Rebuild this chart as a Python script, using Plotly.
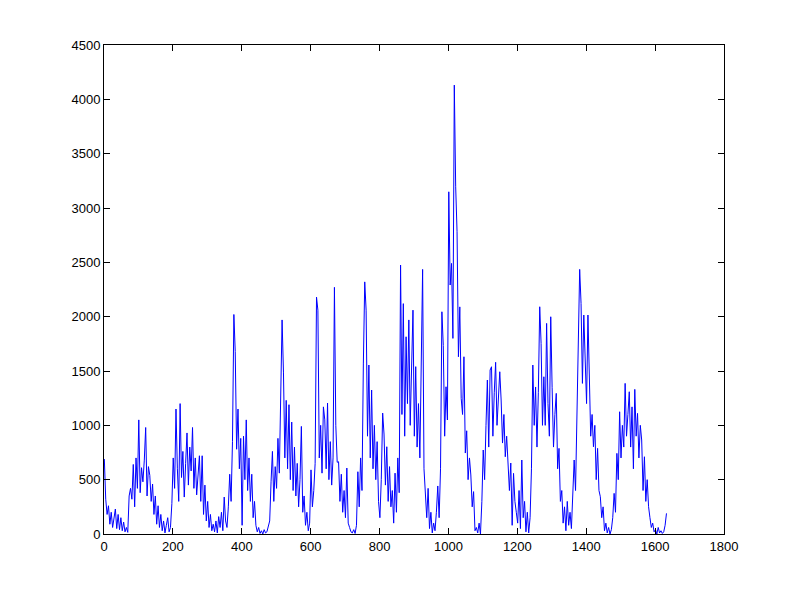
import plotly.graph_objects as go

# Sample index (MATLAB-style plot(y): x = 1..N), sampled every 4 steps
x_start = 1
x_step = 4

# Series values, 10 samples per 40 x-units
values = [
    690, 320, 180, 260, 90, 200, 60, 130, 230, 50,            # 1-37
    180, 40, 150, 30, 110, 20, 60, 15, 350, 420,              # 41-77
    320, 640, 250, 700, 420, 1050, 380, 610, 480, 680,        # 81-117
    980, 350, 620, 540, 300, 460, 180, 350, 90, 260,          # 121-157
    60, 180, 30, 120, 10, 80, 150, 20, 60, 280,               # 161-197
    700, 420, 1150, 600, 300, 1200, 520, 760, 340, 650,       # 201-237
    930, 450, 800, 580, 980, 420, 700, 360, 520, 720,         # 241-277
    300, 720, 180, 450, 120, 300, 60, 180, 30, 90,            # 281-317
    20, 120, 10, 160, 60, 200, 30, 340, 120, 60,              # 321-357
    250, 550, 300, 850, 2020, 1680, 780, 1150, 600, 880,      # 361-397
    80, 900, 500, 1050, 400, 700, 300, 550, 150, 300,         # 401-437
    80, 20, 60, 5, 30, 0, 40, 10, 20, 60,                     # 441-477
    120, 480, 760, 300, 620, 420, 880, 560, 1150, 1970,       # 481-517
    1490, 700, 1230, 600, 1190, 500, 1030, 400, 800, 350,     # 521-557
    650, 250, 500, 990, 200, 350, 80, 200, 30, 100,           # 561-597
    590, 250, 400, 650, 2180, 2060, 700, 1000, 560, 1170,     # 601-637
    1050, 600, 1205, 500, 850, 450, 700, 2270, 1000, 660,     # 641-677
    665, 300, 550, 200, 400, 150, 607, 100, 60, 20,           # 681-717
    10, 40, 5, 80, 573, 250, 700, 400, 1573, 2320,            # 721-757
    2060, 900, 1555, 700, 1325, 600, 1000, 500, 850, 300,     # 761-797
    150, 500, 1113, 920, 450, 803, 300, 620, 250, 400,        # 801-837
    100, 560, 200, 700, 380, 2475, 1100, 2120, 900, 1815,     # 841-877
    1200, 1970, 1000, 1500, 2060, 900, 1540, 800, 1200, 700,  # 881-917
    1750, 2435, 600, 380, 150, 420, 50, 200, 10, 100,         # 921-957
    30, 200, 442, 150, 600, 2045, 1735, 900, 1355, 1049,      # 961-997
    3149, 2291, 2490, 1800, 4131, 3195, 2782, 1631, 2090, 1248,  # 1001-1037
    1100, 1631, 745, 950, 500, 700, 543, 250, 390, 30,        # 1041-1077
    60, 10, 100, 0, 300, 773, 500, 1000, 1417, 800,           # 1081-1117
    1509, 1539, 900, 1300, 1580, 1000, 1200, 1493, 1233, 837, # 1121-1157
    1100, 711, 900, 650, 400, 653, 80, 558, 300, 200,         # 1161-1197
    100, 400, 50, 681, 150, 300, 20, 200, 10, 150,            # 1201-1237
    600, 1555, 1000, 1353, 800, 1300, 2091, 1754, 1000, 1447, # 1241-1277
    1000, 1938, 1200, 900, 1999, 1350, 800, 1100, 1294, 600,  # 1281-1317
    788, 300, 400, 100, 250, 30, 300, 80, 200, 50,            # 1321-1357
    300, 681, 400, 1000, 1662, 2435, 2122, 1386, 2015, 1690,  # 1361-1397
    1200, 2015, 1355, 900, 1100, 803, 1000, 500, 788, 400,    # 1401-1437
    343, 150, 250, 30, 100, 10, 60, 0, 40, 150,               # 1441-1477
    374, 200, 742, 500, 1125, 700, 1000, 800, 1386, 900,      # 1481-1517
    1100, 1309, 800, 1170, 600, 1331, 900, 1110, 700, 1000,   # 1521-1557
    865, 400, 711, 300, 500, 251, 150, 60, 100, 20,           # 1561-1597
    40, 0, 60, 10, 30, 5, 20, 80, 190,                        # 1601-1633
]

x_index = [x_start + x_step * i for i in range(len(values))]

x_ticks = [0, 200, 400, 600, 800, 1000, 1200, 1400, 1600, 1800]
y_ticks = [0, 500, 1000, 1500, 2000, 2500, 3000, 3500, 4000, 4500]

fig = go.Figure()
fig.add_trace(go.Scatter(
    x=x_index, y=values, mode="lines",
    line=dict(color="#0000FF", width=1),
    showlegend=False, hoverinfo="skip",
))

axis_common = dict(
    showline=True, linecolor="black", linewidth=1, mirror="ticks",
    ticks="inside", ticklen=6, tickcolor="black",
    showgrid=False, zeroline=False,
    tickfont=dict(family="Liberation Sans, Arial, sans-serif", size=13, color="black"),
)

# The page body adds an 8px offset, so the figure is sized to compensate
fig.update_layout(
    width=784, height=584,
    paper_bgcolor="white", plot_bgcolor="white",
    margin=dict(l=96, r=68, t=37, b=58),
    xaxis=dict(range=[0, 1800], tickvals=x_ticks, **axis_common),
    yaxis=dict(range=[0, 4500], tickvals=y_ticks, **axis_common),
)

fig.write_html("out.html")
